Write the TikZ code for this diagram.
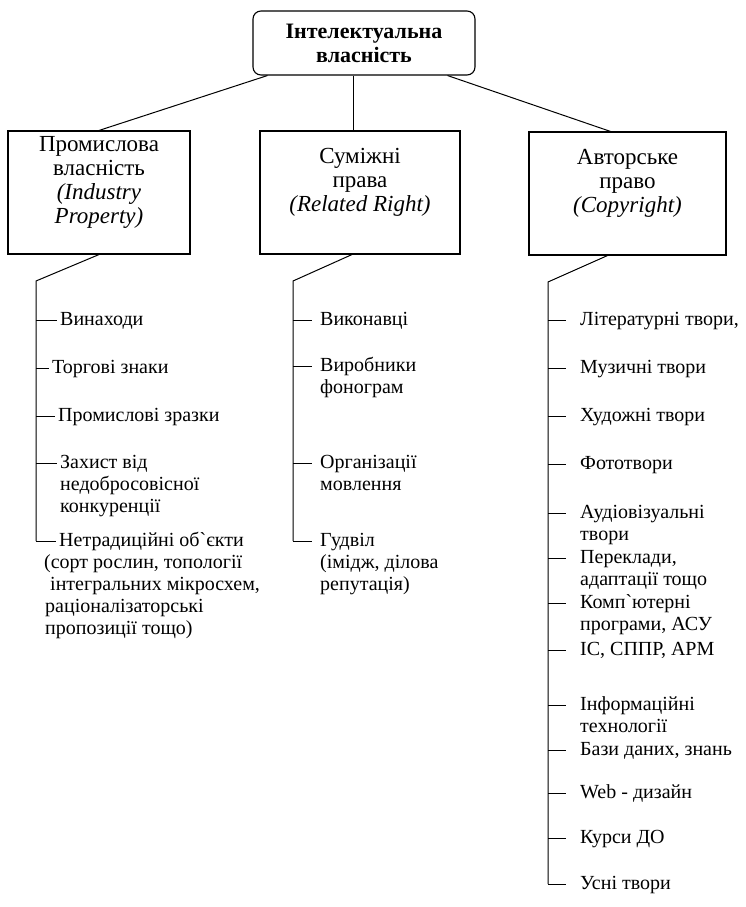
\documentclass[tikz,border=0pt]{standalone}
\usepackage{fontspec}
\setmainfont{Liberation Serif}
\tikzstyle{line} = [draw, line width=1pt]
\tikzstyle{topbox} = [draw, line width=1.1pt, rounded corners=8pt, minimum width=222pt,
   minimum height=64pt, align=center, font=\bfseries\fontsize{22}{24}\selectfont]
\tikzstyle{catbox} = [draw, line width=1.1pt, minimum height=123pt]
\tikzstyle{cattext} = [align=center, yshift=10pt, font=\fontsize{23}{24}\selectfont]
\tikzstyle{item} = [anchor=north west, align=left, inner ysep=0pt, font=\fontsize{20}{22}\selectfont]

\begin{document}
\begin{tikzpicture}[x=1pt,y=-1pt]

\useasboundingbox (0,0) rectangle (745,907);

%\draw[help lines,step=50] (0,0) grid (745,907);

\node[topbox] (ip) at (364,43) {Інтелектуальна\\власність};

\node[catbox, minimum width=182pt,
   label={[cattext]center:{Промислова\\власність\\\textit{(Industry}\\\textit{Property)}}}]
   (ind) at (99,192.5) {};
\node[catbox, minimum width=200pt,
   label={[cattext]center:{Суміжні\\права\\\textit{(Related Right)}}}]
   (rel) at (360,192.5) {};
\node[catbox, minimum width=197pt,
   label={[cattext]center:{Авторське\\право\\\textit{(Copyright)}}}]
   (cop) at (627.5,193.5) {};

\draw[line] ([xshift=15pt]ip.south west) -- (ind.north);
\draw[line] ([xshift=-7pt]rel.north |- ip.south) -- ([xshift=-7pt]rel.north);
\draw[line] ([xshift=-28pt]ip.south east) -- ([xshift=-17pt]cop.north);

% industry property
% (node top = first baseline - strut height)
\foreach \tx/\yy/\txt [count=\i] in {
	57/320/Винаходи,
	49/368/{Торгові знаки},
	55/416/{Промислові зразки},
	57/463/{Захист від\\недобросовісної\\конкуренції},
	56/541/{Нетрадиційні об\textasciigrave{}єкти\\\hspace*{-15pt}(сорт рослин, топології\\\hspace*{-9pt}інтегральних мікросхем,\\\hspace*{-14pt}раціоналізаторські\\\hspace*{-14pt}пропозиції тощо)}} {
	\coordinate (it\i) at (36,\yy);
	\node[item, inner xsep=3pt] (p\i) at (\tx,\yy-10.4) {\strut\txt};
	\draw[line] (it\i) -- (it\i -| p\i.west);
}
\coordinate (ik) at (36,281);
\draw[line] (ind.south) -- (ik) -- (it5);

% related right
\foreach \yy/\txt [count=\i] in {
	320/Виконавці,
	366/{Виробники\\фонограм},
	463/{Організації\\мовлення},
	541/{Гудвіл\\(імідж, ділова\\репутація)}} {
	\coordinate (mt\i) at (293,\yy);
	\node[item, inner xsep=8pt] (m\i) at (312,\yy-10.4) {\strut\txt};
	\draw[line] (mt\i) -- (mt\i -| m\i.west);
}
\coordinate (mk) at (293,281);
\draw[line] ([xshift=-8pt]rel.south) -- (mk) -- (mt4);

% copyright
\foreach \yy/\txt [count=\i] in {
	320/{Літературні твори,},
	368/{Музичні твори},
	416/{Художні твори},
	464/Фототвори,
	513/{Аудіовізуальні\\твори},
	558/{Переклади,\\адаптації тощо},
	603/{Комп\textasciigrave{}ютерні\\програми, АСУ},
	650/{ІС, СППР, АРМ},
	705/{Інформаційні\\технології},
	750/{Бази даних, знань},
	793/{Web - дизайн},
	838/{Курси ДО},
	884/{Усні твори}} {
	\coordinate (rt\i) at (548,\yy);
	\node[item, inner xsep=14pt] (r\i) at (566,\yy-10.4) {\strut\txt};
	\draw[line] (rt\i) -- (rt\i -| r\i.west);
}
\coordinate (rk) at (548,282);
\draw[line] ([xshift=-20pt]cop.south) -- (rk) -- (rt13);

\end{tikzpicture}
\end{document}
